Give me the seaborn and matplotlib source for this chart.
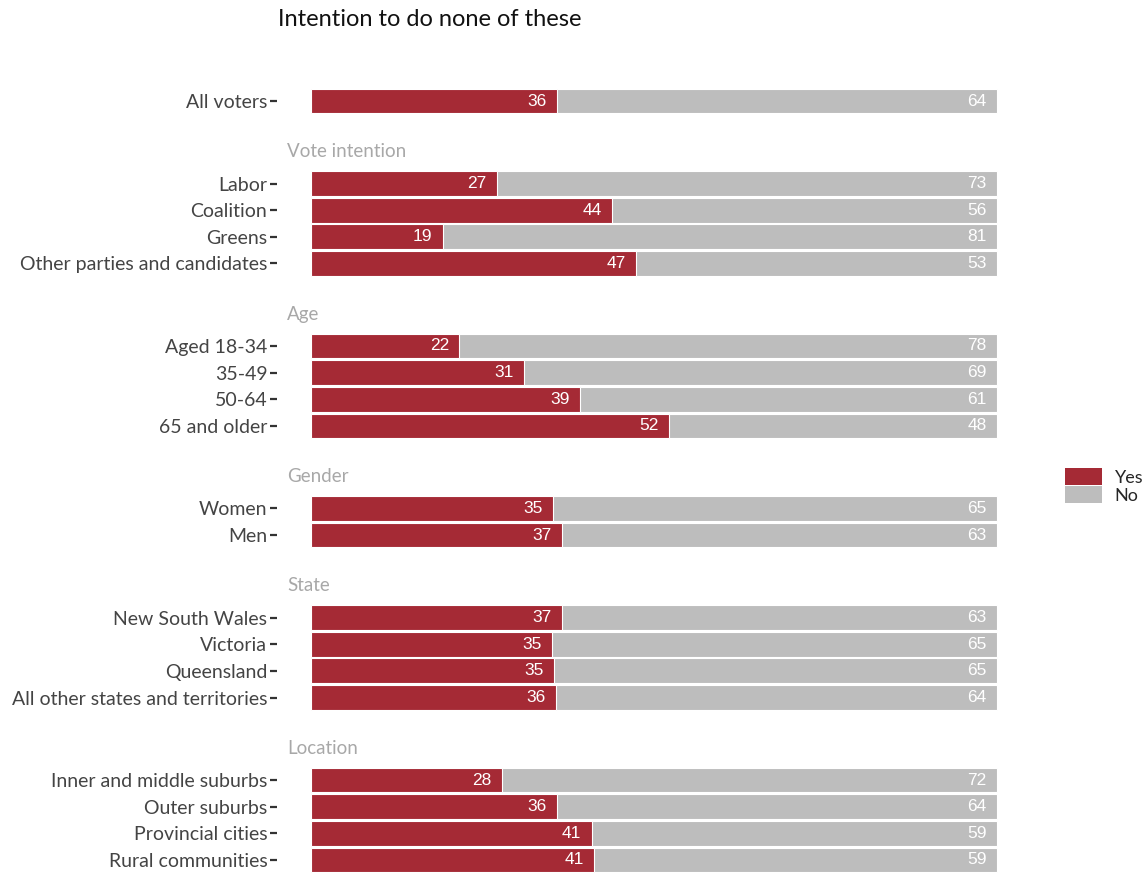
import matplotlib
matplotlib.use("Agg")
import matplotlib.pyplot as plt
import seaborn as sns
import pandas as pd
import numpy as np
from matplotlib.patches import Patch

# ---- data ----
groups = ["", "Vote intention", "Age", "Gender", "State", "Location"]
group_items = [
    ["All voters"],
    ["Labor", "Coalition", "Greens", "Other parties and candidates"],
    ["Aged 18-34", "35-49", "50-64", "65 and older"],
    ["Women", "Men"],
    ["New South Wales", "Victoria", "Queensland", "All other states and territories"],
    ["Inner and middle suburbs", "Outer suburbs", "Provincial cities", "Rural communities"],
]
yes_values = [
    [35.8],
    [27.1, 43.9, 19.2, 47.4],
    [21.6, 31.1, 39.2, 52.2],
    [35.2, 36.6],
    [36.6, 35.1, 35.4, 35.7],
    [27.8, 35.8, 40.9, 41.3],
]
series = ["Yes", "No"]
colors = {"Yes": "#A52A35", "No": "#BDBDBD"}

# ---- build long table with row positions ----
rows = []
headers = []
pos = 0.0
for gi, (g, items, vals) in enumerate(zip(groups, group_items, yes_values)):
    if gi > 0:
        pos += 3.1
        headers.append((g, pos - 1.2))
    for j, (lab, v) in enumerate(zip(items, vals)):
        if j > 0:
            pos += 1.0
        rows.append({"label": lab, "pos": pos, "yes": v, "no": 100 - v, "total": 100.0})
df = pd.DataFrame(rows)

W, H = 1148, 874
fig = plt.figure(figsize=(W / 100, H / 100), dpi=100)
sns.set_style("white")
plt.rcParams["font.family"] = ["Lato", "DejaVu Sans"]

ax_left, ax_right = 277 / W, 1031 / W
ax = fig.add_axes([ax_left, 0, ax_right - ax_left, 1])

px_per_unit = 26.63
top_unit = -101 / px_per_unit
bottom_unit = (H - 101) / px_per_unit

sns.barplot(data=df, y="pos", x="total", orient="y", native_scale=True,
            color=colors["No"], width=0.93, edgecolor="white", linewidth=0.8,
            ax=ax, errorbar=None, saturation=1)
sns.barplot(data=df, y="pos", x="yes", orient="y", native_scale=True,
            color=colors["Yes"], width=0.93, edgecolor="white", linewidth=0.8,
            ax=ax, errorbar=None, saturation=1)

ax.set_xlim(-5, 105)
ax.set_ylim(bottom_unit, top_unit)

for _, r in df.iterrows():
    ax.text(r["yes"] - 1.5, r["pos"], f"{round(r['yes']):d}", ha="right", va="center",
            color="white", fontsize=12.5, family="Liberation Sans")
    ax.text(100 - 1.5, r["pos"], f"{round(r['no']):d}", ha="right", va="center",
            color="white", fontsize=12.5, family="Liberation Sans")

for g, hp in headers:
    ax.text(-3.5, hp, g, ha="left", va="center", color="#A8A8A8", fontsize=13.5)

ax.set_yticks(df["pos"].tolist())
ax.set_yticklabels(df["label"].tolist(), fontsize=14, color="#444444")
ax.tick_params(axis="y", length=5, width=1.6, color="#333333", pad=2, left=True)
ax.set_xticks([])
ax.set_xlabel("")
ax.set_ylabel("")
for s in ax.spines.values():
    s.set_visible(False)

fig.text(278 / W, 1 - 19 / H, "Intention to do none of these", ha="left", va="center",
         fontsize=17, color="#111111")

handles = [Patch(facecolor=colors[s], edgecolor="none", label=s) for s in series]
fig.legend(handles=handles, loc="center left", bbox_to_anchor=(1065 / W, 1 - 486 / H),
           frameon=False, fontsize=13, handlelength=2.05, handleheight=1.05,
           handletextpad=0.7, labelspacing=0.0, borderpad=0, borderaxespad=0)

fig.savefig("out.png", dpi=100)
